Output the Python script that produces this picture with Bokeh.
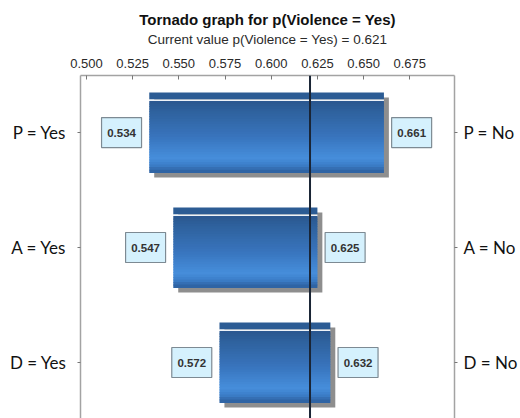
import numpy as np
from bokeh.plotting import figure
from bokeh.core.properties import value
from bokeh.models import (Range1d, LinearAxis, FixedTicker, Span, Title,
                          NumeralTickFormatter, ColumnDataSource)
from bokeh.embed import file_html
from bokeh.resources import INLINE

# ---------------- data ----------------
variables = ["P", "A", "D"]
low_values = [0.534, 0.547, 0.572]
high_values = [0.661, 0.625, 0.632]
left_labels = ["P = Yes", "A = Yes", "D = Yes"]
right_labels = ["P = No", "A = No", "D = No"]
current_value = 0.621
x_ticks = [0.500, 0.525, 0.550, 0.575, 0.600, 0.625, 0.650, 0.675]
title_text = "Tornado graph for p(Violence = Yes)"
subtitle_text = "Current value p(Violence = Yes) = 0.621"

# ---------------- style ----------------
FONT = "Liberation Sans"
CAT_FONT = "Lato"
GREY = "#a3a3a3"
ypos = list(range(len(variables)))

X0, X1 = 0.49679, 0.69919
FRAME_W = 378.0
PX = FRAME_W / (X1 - X0)        # pixels per x unit
y_top, y_bottom = -0.496, 2.487

p = figure(width=520, height=418, output_backend="svg", toolbar_location=None,
           x_range=Range1d(X0, X1), y_range=Range1d(y_bottom, y_top),
           x_axis_location="above", title=None,
           min_border_left=80, min_border_right=62,
           min_border_bottom=0, min_border_top=75)
p.outline_line_color = None
p.xgrid.visible = False
p.ygrid.visible = False

# top x axis (its axis label carries the subtitle)
xa = p.xaxis[0]
xa.ticker = FixedTicker(ticks=x_ticks)
xa.formatter = NumeralTickFormatter(format="0.000")
xa.axis_line_color = GREY
xa.axis_line_width = 1.5
xa.major_tick_in = 4
xa.major_tick_out = 0
xa.major_tick_line_color = "#777777"
xa.minor_tick_line_color = None
xa.major_label_text_font = FONT
xa.major_label_text_font_size = "13px"
xa.major_label_text_color = "#2a2a2a"
xa.major_label_standoff = 8
xa.axis_label = subtitle_text
xa.axis_label_text_font = FONT
xa.axis_label_text_font_size = "13.5px"
xa.axis_label_text_font_style = "normal"
xa.axis_label_text_color = "#2a2a2a"
xa.axis_label_standoff = 9

# left y axis
ya = p.yaxis[0]
ya.ticker = FixedTicker(ticks=ypos)
ya.major_label_overrides = {y: t for y, t in zip(ypos, left_labels)}
ya.axis_line_color = GREY
ya.axis_line_width = 1.5
ya.major_tick_in = 0
ya.major_tick_out = 3
ya.major_tick_line_color = "#777777"
ya.minor_tick_line_color = None
ya.major_label_text_font = CAT_FONT
ya.major_label_text_font_size = "17px"
ya.major_label_text_color = "#111111"
ya.major_label_standoff = 11

# right y axis
p.extra_y_ranges = {"right": Range1d(y_bottom, y_top)}
ra = LinearAxis(y_range_name="right", ticker=FixedTicker(ticks=ypos))
ra.major_label_overrides = {y: t for y, t in zip(ypos, right_labels)}
ra.axis_line_color = GREY
ra.axis_line_width = 1.5
ra.major_tick_in = 0
ra.major_tick_out = 3
ra.major_tick_line_color = "#777777"
ra.minor_tick_line_color = None
ra.major_label_text_font = CAT_FONT
ra.major_label_text_font_size = "17px"
ra.major_label_text_color = "#111111"
ra.major_label_standoff = 6
p.add_layout(ra, "right")

# main title
p.add_layout(Title(text=title_text, align="center", text_font=FONT,
                   text_font_size="15px", text_font_style="bold",
                   text_color="#111111", standoff=1), "above")

# ---------------- bars ----------------
BAR_H = 0.696
STRIP = (-0.348, -0.287)
GAP = (-0.287, -0.270)
BODY = (-0.270, 0.348)
DX, DY = 5 / PX, 0.0435

p.hbar(y=[y + DY for y in ypos], height=BAR_H,
       left=[v + DX for v in low_values], right=[v + DX for v in high_values],
       fill_color="#8e8e8e", line_color=None)
p.hbar(y=[y + (STRIP[0] + STRIP[1]) / 2 for y in ypos], height=STRIP[1] - STRIP[0],
       left=low_values, right=high_values, fill_color="#2c5c94", line_color=None)
p.hbar(y=[y + (GAP[0] + GAP[1]) / 2 for y in ypos], height=GAP[1] - GAP[0],
       left=low_values, right=high_values, fill_color="#eef3f8", line_color=None)

stops = [(0.0, (0x2a, 0x57, 0x8f)), (0.15, (0x2f, 0x62, 0x9e)),
         (0.5, (0x38, 0x74, 0xbd)), (0.8, (0x46, 0x8e, 0xdb)),
         (0.9, (0x3c, 0x7e, 0xc9)), (1.0, (0x2c, 0x5e, 0x9c))]


def grad(t):
    for (t0, c0), (t1, c1) in zip(stops[:-1], stops[1:]):
        if t <= t1:
            f = (t - t0) / (t1 - t0)
            return "#%02x%02x%02x" % tuple(int(round(a + (b - a) * f)) for a, b in zip(c0, c1))
    return "#%02x%02x%02x" % stops[-1][1]


N = 28
sh = (BODY[1] - BODY[0]) / N
ys, ls, rs, cs = [], [], [], []
for y, lo, hi in zip(ypos, low_values, high_values):
    for k in range(N):
        ys.append(y + BODY[0] + (k + 0.5) * sh)
        ls.append(lo)
        rs.append(hi)
        cs.append(grad((k + 0.5) / N))
src = ColumnDataSource(dict(y=ys, left=ls, right=rs, color=cs))
p.hbar(y="y", height=sh * 1.3, left="left", right="right", fill_color="color",
       line_color=None, source=src)

# current value line
p.add_layout(Span(location=current_value, dimension="height",
                  line_color="#1a2535", line_width=2))

# value boxes (40x30 px, 8 px away from the bar ends)
BOX_W, BOX_H, GAP_PX = 40, 30, 8
box_off = (GAP_PX + BOX_W / 2) / PX
bx = [v - box_off for v in low_values] + [v + box_off for v in high_values]
by = ypos + ypos
btxt = [f"{v:.3f}" for v in low_values] + [f"{v:.3f}" for v in high_values]
bsrc = ColumnDataSource(dict(x=bx, y=by, text=btxt))
p.rect(x="x", y="y", width=BOX_W, height=BOX_H, width_units="screen",
       height_units="screen", fill_color="#d5f1fd", line_color="#7d8a93",
       line_width=1.2, source=bsrc)
p.text(x="x", y="y", text="text", text_align="center", text_baseline="middle",
       text_font=value(FONT), text_font_size="11.5px", text_font_style="bold",
       text_color="#333333", source=bsrc)

open("out.html", "w").write(file_html(p, INLINE))
